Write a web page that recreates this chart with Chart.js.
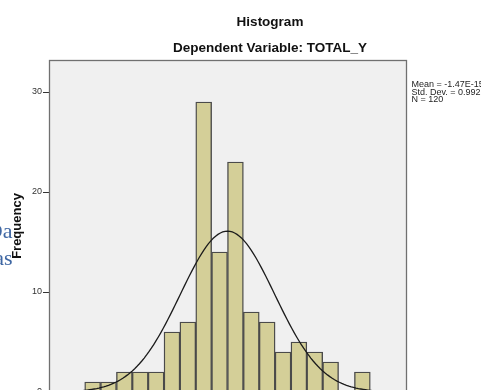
<!DOCTYPE html>
<html><head><meta charset="utf-8">
<script src="https://cdn.jsdelivr.net/npm/chart.js@4/dist/chart.umd.min.js"></script>
<style>
html,body{margin:0;padding:0;width:481px;height:390px;overflow:hidden;background:#fff;}
#wrap{position:absolute;left:0;top:0;width:540px;height:432px;}
</style></head><body>
<div id="wrap"><canvas id="c" width="540" height="432"></canvas></div>
<script>
// ---- chart content ----
const chartTitle = 'Histogram';
const chartSubtitle = 'Dependent Variable: TOTAL_Y';
const yAxisTitle = 'Frequency';
const binCenters = [-2.8333, -2.5, -2.1667, -1.8333, -1.5, -1.1667, -0.8333, -0.5, -0.1667,
                    0.1667, 0.5, 0.8333, 1.1667, 1.5, 1.8333, 2.1667, 2.5, 2.8333];
const frequencies = [1, 1, 2, 2, 2, 6, 7, 29, 14, 23, 8, 7, 4, 5, 4, 3, 0, 2];
const yTickValues = [0, 10, 20, 30];
const xTickValues = [-3, -2, -1, 0, 1, 2, 3];
const statMean = -1.47e-15;
const statStdDev = 0.992;
const statN = 120;
const binWidth = 1 / 3;
const curveRange = [-3.25, 3.25];
const statLabels = ['Mean = -1.47E-15', 'Std. Dev. = 0.992', 'N = 120'];
const marginText = ['Da', 'as'];

// normal curve from the stated Mean / Std. Dev. / N
const curvePoints = [];
for (let x = curveRange[0]; x <= curveRange[1] + 1e-9; x += 0.05) {
  const z = (x - statMean) / statStdDev;
  curvePoints.push({x: x, y: statN * binWidth * Math.exp(-0.5 * z * z) / (statStdDev * Math.sqrt(2 * Math.PI))});
}
const barPoints = binCenters.map((c, i) => ({x: c, y: frequencies[i]}));

const FONT = "'Liberation Sans', Arial, sans-serif";

const framePlugin = {
  id: 'frame',
  beforeDraw(chart) {
    const {ctx, chartArea: a} = chart;
    ctx.save();
    ctx.fillStyle = '#f0f0f0';
    ctx.fillRect(a.left, a.top, a.right - a.left, a.bottom - a.top);
    ctx.restore();
  },
  afterDraw(chart) {
    const {ctx, chartArea: a} = chart;
    ctx.save();
    ctx.strokeStyle = '#707070';
    ctx.lineWidth = 1.3;
    ctx.strokeRect(a.left + 0.5, a.top + 0.5, a.right - a.left, a.bottom - a.top);
    // statistics box text
    ctx.fillStyle = '#1e1e1e';
    ctx.font = '9px ' + FONT;
    ctx.textAlign = 'left';
    ctx.textBaseline = 'alphabetic';
    statLabels.forEach((t, i) => ctx.fillText(t, a.right + 5.5, 87 + i * 7.5));
    // stray document text at the left edge
    ctx.fillStyle = '#3f67a3';
    ctx.font = "22px 'Liberation Serif', 'DejaVu Serif', serif";
    ctx.textAlign = 'right';
    ctx.fillText(marginText[0], 12.5, 238);
    ctx.fillText(marginText[1], 12.5, 265);
    ctx.restore();
  }
};

new Chart(document.getElementById('c'), {
  type: 'bar',
  data: {
    datasets: [
      {
        type: 'line',
        data: curvePoints,
        borderColor: '#1c1c1c',
        borderWidth: 1.3,
        pointRadius: 0,
        tension: 0,
        fill: false
      },
      {
        type: 'bar',
        data: barPoints,
        backgroundColor: '#d4cf98',
        borderColor: '#4a4a4a',
        borderWidth: 1.4,
        borderSkipped: false,
        barPercentage: 1,
        categoryPercentage: 1
      }
    ]
  },
  options: {
    responsive: false,
    animation: false,
    devicePixelRatio: 1,
    layout: {padding: 0},
    plugins: {
      legend: {display: false},
      tooltip: {enabled: false},
      title: {
        display: true, text: chartTitle, color: '#111',
        font: {family: FONT, size: 13.5, weight: 'bold', lineHeight: 1.2},
        padding: {top: 14, bottom: 0}
      },
      subtitle: {
        display: true, text: chartSubtitle, color: '#111',
        font: {family: FONT, size: 13.5, weight: 'bold', lineHeight: 1.2},
        padding: {top: 10, bottom: 3.6}
      }
    },
    scales: {
      x: {
        type: 'linear', min: -3.75, max: 3.75, offset: false,
        afterBuildTicks: s => { s.ticks = xTickValues.map(v => ({value: v})); },
        afterFit: s => { s.height = 40; },
        grid: {display: true, offset: false, drawOnChartArea: false, drawTicks: true, tickLength: 6, color: '#333'},
        border: {display: false},
        ticks: {color: '#333', font: {family: FONT, size: 9}, padding: 1}
      },
      y: {
        type: 'linear', position: 'left', min: 0, max: 33.2,
        afterBuildTicks: s => { s.ticks = yTickValues.map(v => ({value: v})); },
        afterFit: s => { s.width = 49; },
        grid: {display: true, drawOnChartArea: false, drawTicks: true, tickLength: 6, color: '#333'},
        border: {display: false},
        ticks: {color: '#333', font: {family: FONT, size: 9}, padding: 1},
        title: {
          display: true, text: yAxisTitle, color: '#111',
          font: {family: FONT, size: 13, weight: 'bold', lineHeight: 1.2},
          padding: {top: 9.2, bottom: 4}
        }
      },
      y2: {
        type: 'linear', position: 'right', display: true,
        afterFit: s => { s.width = 134; },
        grid: {display: false},
        border: {display: false},
        ticks: {display: false}
      }
    }
  },
  plugins: [framePlugin]
});
</script>
</body></html>
